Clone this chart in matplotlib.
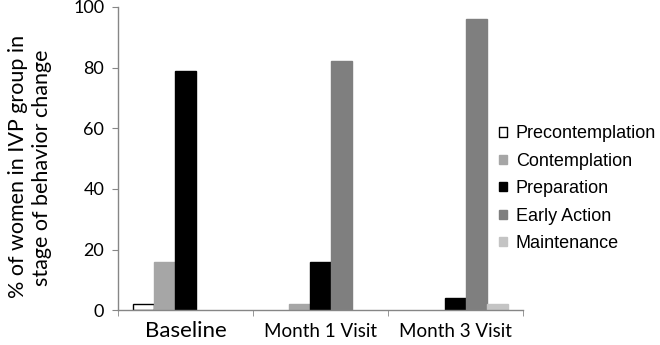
import matplotlib
matplotlib.use("Agg")
import matplotlib.pyplot as plt
import numpy as np
from matplotlib.patches import Patch

categories = ["Baseline", "Month 1 Visit", "Month 3 Visit"]
stages = ["Precontemplation", "Contemplation", "Preparation", "Early Action", "Maintenance"]
precontemplation = [2, 0, 0]
contemplation = [16, 2, 0]
preparation = [79, 16, 4]
early_action = [0, 82, 96]
maintenance = [0, 0, 2]
series = [precontemplation, contemplation, preparation, early_action, maintenance]
yticks = [0, 20, 40, 60, 80, 100]

face = ["white", "#a6a6a6", "black", "#7f7f7f", "#c4c4c4"]
edge = ["black", "#a6a6a6", "black", "#7f7f7f", "#c4c4c4"]

fig = plt.figure(figsize=(6.6, 3.45), dpi=100)
ax = fig.add_axes([0.179, 0.101, 0.613, 0.879])

x = np.arange(len(categories))
w = 0.778 / 5
for i, vals in enumerate(series):
    vals = np.array(vals, dtype=float)
    keep = vals > 0
    ax.bar((x - 0.389 + w * (i + 0.5))[keep], vals[keep], width=w, color=face[i],
           edgecolor=edge[i], linewidth=1.0, label=stages[i])

ax.set_xlim(-0.5, 2.5)
ax.set_ylim(0, 100)
ax.set_yticks(yticks)
ax.set_yticklabels([str(v) for v in yticks], fontfamily="Lato", fontsize=13)
ax.set_xticks(x)
ax.set_xticklabels([])
ax.tick_params(axis="x", which="major", length=0)
ax.set_xticks([-0.5, 0.5, 1.5, 2.5], minor=True)
ax.tick_params(axis="x", which="minor", length=4, color="#868686", direction="out")
ax.tick_params(axis="y", length=4, color="#868686", pad=6)
sizes = [16, 13.5, 13.5]
offs = [-3.5, -4.2, -4.2]
for xi, lab, fs, o in zip(x, categories, sizes, offs):
    ax.text(xi, o, lab, ha="center", va="top", fontfamily="Lato", fontsize=fs,
            transform=ax.transData)

for s in ["top", "right"]:
    ax.spines[s].set_visible(False)
for s in ["left", "bottom"]:
    ax.spines[s].set_color("#868686")
    ax.spines[s].set_linewidth(1.0)

fig.text(0.027, 0.517, "% of women in IVP group in", rotation=90, ha="center", va="center",
         fontfamily="Lato", fontsize=15.5)
fig.text(0.064, 0.515, "stage of behavior change", rotation=90, ha="center", va="center",
         fontfamily="Lato", fontsize=15.5)

handles = [Patch(facecolor=face[i], edgecolor=edge[i], linewidth=1.0) for i in range(5)]
leg = fig.legend(handles, stages, loc="upper left", bbox_to_anchor=(0.732, 0.684),
                 frameon=False, prop={"family": "Liberation Sans", "size": 13},
                 handlelength=0.42, handleheight=0.42, handletextpad=0.5, labelspacing=0.58)

fig.savefig("out.png", dpi=100)
